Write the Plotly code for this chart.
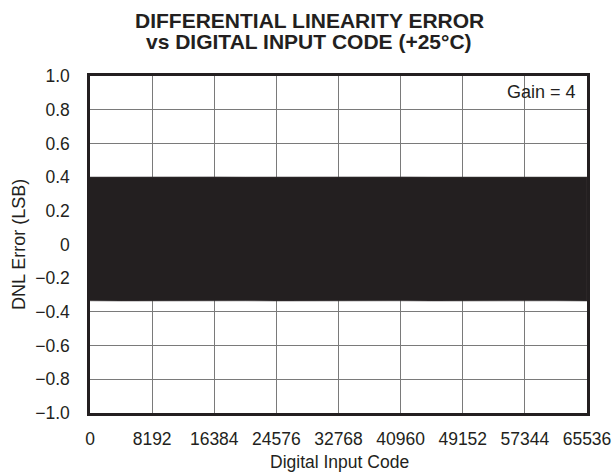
import plotly.graph_objects as go

codes = [0, 4096, 8192, 12288, 16384, 20480, 24576, 28672, 32768,
         36864, 40960, 45056, 49152, 53248, 57344, 61440, 65535]
dnl_max = [0.400, 0.401, 0.400, 0.399, 0.401, 0.400, 0.401, 0.400, 0.399,
           0.400, 0.401, 0.400, 0.399, 0.400, 0.401, 0.400, 0.400]
dnl_min = [-0.334, -0.335, -0.334, -0.336, -0.335, -0.334, -0.335, -0.336, -0.334,
           -0.335, -0.334, -0.335, -0.336, -0.334, -0.335, -0.334, -0.335]

x_ticks = [0, 8192, 16384, 24576, 32768, 40960, 49152, 57344, 65536]
x_tick_text = ["0", "8192", "16384", "24576", "32768", "40960", "49152", "57344", "65536"]
y_ticks = [-1.0, -0.8, -0.6, -0.4, -0.2, 0.0, 0.2, 0.4, 0.6, 0.8, 1.0]
y_tick_text = ["\u22121.0", "\u22120.8", "\u22120.6", "\u22120.4", "\u22120.2", "0",
               "0.2", "0.4", "0.6", "0.8", "1.0"]

title_lines = ["DIFFERENTIAL LINEARITY ERROR", "vs DIGITAL INPUT CODE (+25\u00b0C)"]
x_title = "Digital Input Code"
y_title = "DNL Error (LSB)"
note = "Gain = 4"

INK = "#231f20"
FONT = "Liberation Sans, Arial, Helvetica, sans-serif"

fig = go.Figure()
fig.add_trace(go.Scatter(
    x=codes + codes[::-1],
    y=dnl_max + dnl_min[::-1],
    fill="toself",
    fillcolor=INK,
    line=dict(width=0.6, color="#3a3637"),
    mode="lines",
    hoverinfo="skip",
    showlegend=False,
))

# page margin is removed by the post script, so figure pixels = screenshot pixels
W, H = 613, 472
PL, PR, PT, PB = 90, 587, 76, 413          # plot box in pixels
L, R, T, B = PL, W - PR, PT, H - PB
pw = W - L - R
ph = H - T - B

def px_x(p):
    return (p - L) / pw

def px_y(p):
    return (H - B - p) / ph

fig.update_layout(
    width=W, height=H, autosize=False,
    margin=dict(l=L, r=R, t=T, b=B, pad=0, autoexpand=False),
    paper_bgcolor="white", plot_bgcolor="white",
    font=dict(family=FONT, color=INK, size=16),
    showlegend=False,
)
fig.update_xaxes(
    range=[0, 65536], tickmode="array", tickvals=x_ticks, ticktext=x_tick_text,
    showgrid=True, gridcolor="#7a7a7a", gridwidth=1,
    showline=True, linecolor=INK, linewidth=2.5, mirror=True,
    zeroline=False, ticks="", ticklabelstandoff=8, automargin=False,
    ticklabeloverflow="allow",
    tickfont=dict(size=17.5, family=FONT, color=INK),
)
fig.update_yaxes(
    range=[-1, 1], tickmode="array", tickvals=y_ticks, ticktext=y_tick_text,
    showgrid=True, gridcolor="#7a7a7a", gridwidth=1,
    showline=True, linecolor=INK, linewidth=2.5, mirror=True,
    zeroline=False, ticks="", ticklabelstandoff=14, automargin=False,
    ticklabeloverflow="allow",
    tickfont=dict(size=17.5, family=FONT, color=INK),
)

cx = px_x(309)
fig.add_annotation(text="<b>%s</b>" % title_lines[0], xref="paper", yref="paper",
                   x=cx, y=px_y(20), xanchor="center", yanchor="middle",
                   showarrow=False, font=dict(size=21, family=FONT, color=INK))
fig.add_annotation(text="<b>%s</b>" % title_lines[1], xref="paper", yref="paper",
                   x=cx, y=px_y(41), xanchor="center", yanchor="middle",
                   showarrow=False, font=dict(size=21, family=FONT, color=INK))
fig.add_annotation(text=note, xref="paper", yref="paper",
                   x=px_x(578), y=px_y(92), xanchor="right", yanchor="middle",
                   showarrow=False, font=dict(size=18, family=FONT, color=INK))
fig.add_annotation(text=x_title, xref="paper", yref="paper",
                   x=px_x(339), y=px_y(462), xanchor="center", yanchor="middle",
                   showarrow=False, font=dict(size=17.5, family=FONT, color=INK))
fig.add_annotation(text=y_title, xref="paper", yref="paper", textangle=-90,
                   x=px_x(19), y=px_y(245), xanchor="center", yanchor="middle",
                   showarrow=False, font=dict(size=18, family=FONT, color=INK))

fig.write_html(
    "out.html",
    config={"displayModeBar": False},
    post_script="document.body.style.margin='0';"
                "document.documentElement.style.overflow='hidden';"
                "document.body.style.overflow='hidden';",
)
